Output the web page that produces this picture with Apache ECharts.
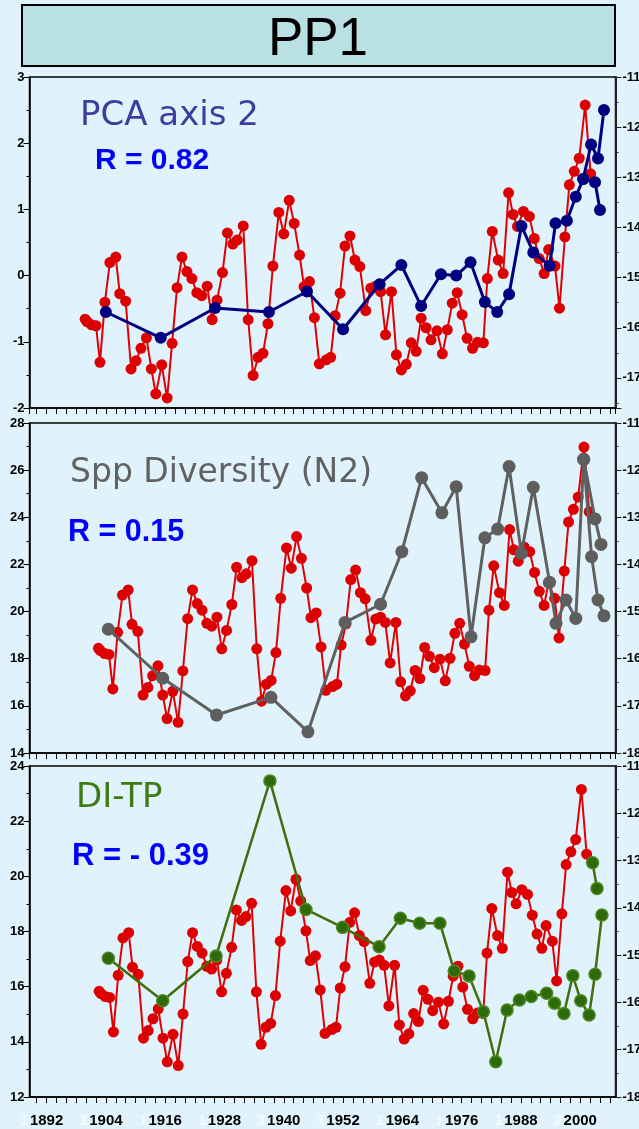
<!DOCTYPE html>
<html><head><meta charset="utf-8">
<script src="https://cdn.jsdelivr.net/npm/echarts@6/dist/echarts.min.js"></script>
<style>html,body{margin:0;padding:0;background:#E0F3FD;overflow:hidden;}#c{width:639px;height:1129px;}</style>
</head><body><div id="c"></div>
<script>
// ---- data ----
// temperature record (red), x positions as read in the top panel
const redYears = [1899.8,1900.2,1901.1,1902.0,1902.8,1903.8,1904.8,1906.0,1906.8,1908.0,
1909.1,1910.1,1911.1,1912.2,1913.2,1914.1,1915.3,1916.4,1917.4,1918.4,
1919.4,1920.4,1921.4,1922.4,1923.4,1924.5,1925.5,1926.5,1927.6,1928.6,
1929.7,1930.6,1931.8,1932.8,1933.8,1934.8,1935.8,1936.8,1937.8,1939.0,
1940.0,1941.1,1942.1,1943.2,1944.1,1945.2,1946.2,1947.2,1948.6,1949.5,
1950.4,1951.4,1952.4,1953.4,1954.4,1955.4,1956.6,1957.6,1958.6,1959.6,
1960.6,1961.8,1962.8,1963.8,1964.8,1965.8,1966.8,1967.8,1968.8,1969.8,
1971.0,1972.1,1973.1,1974.1,1975.1,1976.1,1977.1,1978.2,1979.2,1980.4,
1981.2,1982.2,1983.4,1984.4,1985.5,1986.4,1987.3,1988.5,1989.7,1990.7,
1991.7,1992.7,1993.6,1994.9,1995.8,1996.9,1997.8,1998.8,1999.8,2001.0,
2002.1];
const redValues = [-15.83,-15.88,-15.94,-15.96,-16.69,-15.49,-14.70,-14.59,-15.32,-15.47,
-16.82,-16.66,-16.41,-16.20,-16.82,-17.32,-16.74,-17.40,-16.31,-15.20,
-14.59,-14.88,-15.02,-15.30,-15.36,-15.17,-15.84,-15.45,-14.90,-14.11,
-14.33,-14.25,-13.97,-15.84,-16.95,-16.59,-16.51,-15.92,-14.77,-13.70,
-14.13,-13.46,-13.92,-14.55,-15.18,-15.08,-15.80,-16.72,-16.64,-16.59,
-15.76,-15.31,-14.37,-14.17,-14.65,-14.78,-15.66,-15.21,-15.17,-15.28,
-16.14,-15.28,-16.54,-16.84,-16.73,-16.30,-16.47,-15.81,-16.00,-16.24,
-16.06,-16.52,-16.04,-15.51,-15.30,-15.74,-16.21,-16.41,-16.29,-16.30,
-15.02,-14.08,-14.65,-14.92,-13.31,-13.74,-13.98,-13.68,-13.78,-14.22,
-14.62,-14.92,-14.44,-14.77,-15.61,-14.19,-13.15,-12.88,-12.62,-11.56,
-12.93];

// PCA axis 2 (navy)
const pcaYears = [1904.0,1915.1,1926.1,1937.0,1944.7,1952.0,1959.4,1963.8,1967.8,1971.8,1974.9,1977.8,1980.7,1983.2,1985.6,1988.1,1990.5,1993.8,1995.0,1997.3,1999.1,2000.6,2002.2,2003.6,2004.8];
const pcaValues = [-0.55,-0.94,-0.49,-0.55,-0.24,-0.81,-0.13,0.16,-0.46,0.02,0.00,0.20,-0.40,-0.55,-0.28,0.75,0.35,0.15,0.79,0.83,1.19,1.46,1.98,1.77,2.50];
const pcaYearsB = [2000.6,2003.0,2004.0];
const pcaValuesB = [1.46,1.41,0.99];

// Spp Diversity N2 (grey)
const n2Years = [1904.5,1915.5,1926.4,1937.4,1944.9,1952.4,1959.6,1963.9,1967.9,1972.0,1974.9,1977.9,1980.7,1983.3,1985.6,1988.1,1990.5,1993.8,1995.1,1997.1,1999.1,2000.7,2002.3,2003.6,2004.8];
const n2Values = [19.25,17.17,15.61,16.36,14.90,19.54,20.31,22.54,25.68,24.19,25.30,18.93,23.13,23.50,26.15,22.47,25.27,21.24,19.50,20.49,19.71,26.46,22.33,20.49,19.82];
const n2YearsB = [2000.7,2003.0,2004.2];
const n2ValuesB = [26.46,23.93,22.85];

// DI-TP (green)
const ditpYears = [1904.5,1915.5,1926.3,1937.2,1944.5,1951.9,1959.3,1963.6,1967.5,1971.6,1974.5,1977.5,1980.4,1982.9,1985.2,1987.7,1990.1,1993.2,1994.8,1996.7,1998.5,2000.1,2001.8,2003.0,2004.4];
const ditpValues = [17.03,15.49,17.11,23.46,18.80,18.15,17.45,18.48,18.30,18.30,16.57,16.39,15.09,13.28,15.15,15.52,15.64,15.76,15.40,15.03,16.40,15.49,14.97,16.45,18.60];
const ditpYearsB = [2002.5,2003.4];
const ditpValuesB = [20.49,19.56];

const xTickLabels = [1892,1904,1916,1928,1940,1952,1964,1976,1988,2000];
const panelTitles = ['PCA axis 2','Spp Diversity (N2)','DI-TP'];
const rTexts = ['R = 0.82','R = 0.15','R = - 0.39'];

// ---- chart ----
const FONT = '"Liberation Sans", Arial, sans-serif';
const chart = echarts.init(document.getElementById('c'));
const grids = [
  {left:29.5, right:23.5, top:77, height:331},
  {left:29.5, right:23.5, top:423, height:330},
  {left:29.5, right:23.5, top:766, height:331}
].map(g => Object.assign(g, {show:true, borderColor:'#000', borderWidth:1.5, backgroundColor:'transparent',
  containLabel:false, outerBoundsMode:'none'}));

const X_MIN = 1888.54, X_MAX = 2007.14;
function isLabelYear(v){ return Math.abs(v-Math.round(v))<1e-6 && xTickLabels.indexOf(Math.round(v))>=0; }
function xAx(gi, showLabels){
  return {type:'value', gridIndex:gi, position:'bottom', min:X_MIN, max:X_MAX, minInterval:2, maxInterval:2, splitNumber:59,
    axisLine:{onZero:false, lineStyle:{color:'#000', width:1.5}},
    axisTick:{length:6, lineStyle:{color:'#000', width:1}},
    splitLine:{show:false},
    axisLabel:{show:showLabels, showMinLabel:false, showMaxLabel:false, margin:16,
      formatter:v => isLabelYear(v) ? String(Math.round(v)) : '',
      color:'#000', fontWeight:'bold', fontSize:15, fontFamily:FONT}};
}
// faint leading glyph visible before each year label in the original
function xGhost(gi){
  return {type:'value', gridIndex:gi, position:'bottom', offset:0, min:X_MIN, max:X_MAX, minInterval:2, maxInterval:2, splitNumber:59,
    axisLine:{show:false, onZero:false}, axisTick:{show:false}, splitLine:{show:false},
    axisLabel:{show:true, showMinLabel:false, showMaxLabel:false, margin:16, align:'right', padding:[0,18,0,0],
      formatter:v => isLabelYear(v) ? String(Math.round(v)).charAt(0) : '',
      color:'#F4FAFF', fontWeight:'bold', fontSize:15, fontFamily:FONT}};
}
// secondary (hidden) scales of the overlaid temperature curve in panels 2 and 3
function xHidden(gi, min, max){
  return {type:'value', gridIndex:gi, position:'top', min, max, show:false, splitLine:{show:false}};
}
function yHidden(gi, min, max){
  return {type:'value', gridIndex:gi, position:'right', min, max, show:false, splitLine:{show:false}};
}
function yL(gi, min, max, step){
  return {type:'value', gridIndex:gi, position:'left', min, max, interval:step,
    axisLine:{show:true, onZero:false, lineStyle:{color:'#000', width:1.5}},
    axisTick:{show:true, length:6, lineStyle:{color:'#000'}},
    minorTick:{show:true, splitNumber:2, length:3, lineStyle:{color:'#000'}},
    splitLine:{show:false}, minorSplitLine:{show:false},
    axisLabel:{margin:5, color:'#000', fontWeight:'bold', fontSize:13, fontFamily:FONT}};
}
function yR(gi, min, max){
  return {type:'value', gridIndex:gi, position:'right', min, max, minInterval:1, maxInterval:1, splitNumber:7,
    axisLine:{show:true, onZero:false, lineStyle:{color:'#222', width:2}},
    axisTick:{show:true, length:6, lineStyle:{color:'#222'}},
    minorTick:{show:true, splitNumber:2, length:3, lineStyle:{color:'#222'}},
    splitLine:{show:false}, minorSplitLine:{show:false},
    axisLabel:{margin:7, showMinLabel:Number.isInteger(min), color:'#000', fontWeight:'bold', fontSize:13, fontFamily:FONT,
      formatter:v => Math.abs(v-Math.round(v))<1e-6 ? String(Math.round(v)) : ''}};
}
function zip(a,b){ return a.map((x,i)=>[x,b[i]]); }
function redSeries(xi, yi){
  return {type:'line', xAxisIndex:xi, yAxisIndex:yi, data:zip(redYears, redValues), symbol:'circle', symbolSize:11,
    lineStyle:{color:'#E00000', width:2}, itemStyle:{color:'#DD0000'}, z:2};
}
function coreSeries(xi, yi, xs, ys, st){
  return {type:'line', xAxisIndex:xi, yAxisIndex:yi, data:zip(xs, ys), symbol:'circle', symbolSize:st.size,
    lineStyle:{color:st.line, width:st.lw}, itemStyle:st.item, z:3};
}
const navy = {size:12, line:'#000080', lw:3, item:{color:'#000080'}};
const grey = {size:13, line:'#606060', lw:3, item:{color:'#5E5E5E'}};
const green = {size:12, line:'#3F6F0C', lw:2.5, item:{color:'#2E6A0C', borderColor:'#4C8A1E', borderWidth:1.5}};

const texts = [];
const tpos = [
  {x:80, y:99, font:'34px "DejaVu Sans"', fill:'#3D3D9D'},
  {x:70, y:457, font:'33px "DejaVu Sans"', fill:'#626262'},
  {x:76, y:781, font:'34px "DejaVu Sans"', fill:'#3D7A14'}
];
const rpos = [{x:95,y:146,f:30},{x:68,y:517,f:30.5},{x:72,y:841,f:31}];
panelTitles.forEach((t,i)=>{
  texts.push({type:'text', z:50, style:{text:t, x:tpos[i].x, y:tpos[i].y, font:tpos[i].font, fill:tpos[i].fill}});
  texts.push({type:'text', z:50, style:{text:rTexts[i], x:rpos[i].x, y:rpos[i].y, font:'bold '+rpos[i].f+'px "Liberation Sans"', fill:'#0000FF'}});
});

chart.setOption({
  animation:false,
  backgroundColor:'#E0F3FD',
  grid:grids,
  xAxis:[xAx(0,false), xAx(1,false), xAx(2,true), xHidden(1,1885.427,2007.58), xHidden(2,1885.186,2008.16), xGhost(2)],
  yAxis:[yL(0,-2,3,1), yR(0,-17.6,-11), yL(1,14,28,2), yR(1,-18,-11), yL(2,12,24,2), yR(2,-18,-11),
         yHidden(1,-18.05,-11.05), yHidden(2,-18.065,-11.065)],
  graphic:[
    {type:'rect', shape:{x:22, y:5, width:593, height:61}, style:{fill:'#B9E1E4', stroke:'#000', lineWidth:2}},
    {type:'text', style:{text:'PP1', x:318, y:14, font:'53px "Liberation Sans"', fill:'#000', textAlign:'center'}}
  ].concat(texts),
  series:[
    redSeries(0,1),
    coreSeries(0,0,pcaYears,pcaValues,navy),
    coreSeries(0,0,pcaYearsB,pcaValuesB,navy),
    redSeries(3,6),
    coreSeries(1,2,n2Years,n2Values,grey),
    coreSeries(1,2,n2YearsB,n2ValuesB,grey),
    redSeries(4,7),
    coreSeries(2,4,ditpYears,ditpValues,green),
    coreSeries(2,4,ditpYearsB,ditpValuesB,green)
  ]
});
</script></body></html>
